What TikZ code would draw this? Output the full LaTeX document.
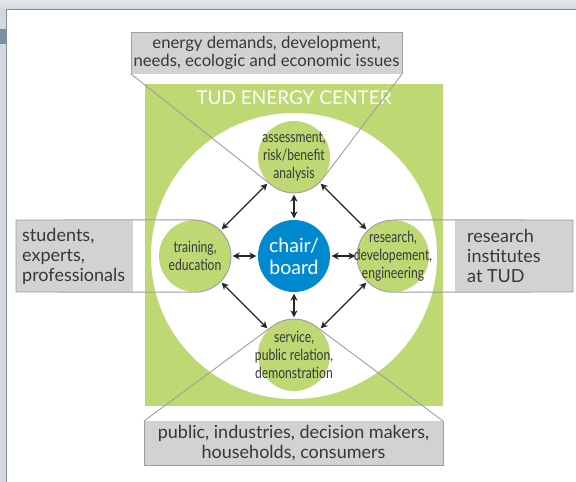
\documentclass[tikz,border=0pt]{standalone}
\usepackage{fontspec}
\setmainfont{Lato}
\newfontfamily\condfont[FakeStretch=0.78]{Lato}
\usepackage{tikz}
\usetikzlibrary{arrows.meta,calc}
\usepackage{xcolor}
\definecolor{tudgreen}{RGB}{190,216,116}
\definecolor{tudblue}{RGB}{0,137,207}
\definecolor{boxgray}{RGB}{209,210,212}
\definecolor{linegray}{RGB}{158,158,160}
\definecolor{textgray}{RGB}{55,55,58}
\definecolor{chromegray}{RGB}{212,216,222}
\definecolor{chromeblue}{RGB}{122,142,168}

\tikzset{
  task/.style={circle,fill=tudgreen,minimum size=72pt,inner sep=0pt},
  tasktext/.style={align=center,inner sep=0pt,text=textgray,
    font=\condfont\fontsize{15.5}{18}\selectfont},
  link/.style={{Stealth[length=7pt,width=7pt]}-{Stealth[length=7pt,width=7pt]},
    line width=1.4pt,draw=black!85,shorten >=1.5pt,shorten <=1.5pt},
  outline/.style={draw=linegray,line width=0.9pt},
  boxtext/.style={text=textgray,inner sep=0pt,font=\fontsize{18}{20}\selectfont}
}

\begin{document}
\begin{tikzpicture}[x=1pt,y=1pt]
  \useasboundingbox (0,0) rectangle (576,-482);
  % window frame
  \fill[white] (0,0) rectangle (576,-482);
  \shade[top color=chromegray!60,bottom color=chromegray] (0,0) rectangle (576,-9);
  \fill[chromegray] (0,-9) rectangle (6,-482);
  \fill[chromeblue] (0,-29) rectangle (6,-44);
  \draw[chromeblue,line width=1pt] (6.5,-482) -- (6.5,-9.5) -- (576,-9.5);

  % center area
  \fill[tudgreen] (145,-84) rectangle (443,-406);
  \fill[white] (294,-256) circle (143);
  \node[text=white,font=\fontsize{19}{22}\selectfont] (title) at (294,-98) {TUD ENERGY CENTER};

  \coordinate (c0) at (294,-256);
  \node[circle,fill=tudblue,minimum size=72pt,inner sep=0pt,align=center,text=white,
    font=\fontsize{19.5}{22}\selectfont] (chair) at (c0) {chair/\\board};
  \node[task] (assess) at (294,-157) {};
  \node[task] (train) at (195,-256) {};
  \node[task] (research) at (393,-256) {};
  \node[task] (service) at (294,-355) {};

  % gray boxes
  \fill[boxgray] (131,-32) rectangle (402,-74);
  \fill[boxgray] (144,-421) rectangle (443,-465);
  \fill[boxgray] (16,-220) rectangle (133,-292);
  \fill[boxgray] (455,-220) rectangle (573,-292);

  \coordinate (tl) at (131,-74); \coordinate (tr) at (402,-74);
  \coordinate (bl) at (144,-421); \coordinate (br) at (443,-421);
  \draw[outline] (131,-74) -- (131,-32) -- (402,-32) -- (402,-74);
  \draw[outline] (144,-421) -- (144,-465) -- (443,-465) -- (443,-421);
  \draw[outline] let \p1=($(tl)-(assess)$), \p2=($(tr)-(assess)$),
      \n1={atan2(\y1,\x1)+acos(36/veclen(\x1,\y1))},
      \n2={atan2(\y2,\x2)-acos(36/veclen(\x2,\y2))+360} in
    (tl) -- ($(assess)+(\n1:36)$) arc[start angle=\n1,end angle=\n2,radius=36] -- (tr);
  \draw[outline] let \p1=($(bl)-(service)$), \p2=($(br)-(service)$),
      \n1={atan2(\y1,\x1)-acos(36/veclen(\x1,\y1))+360},
      \n2={atan2(\y2,\x2)+acos(36/veclen(\x2,\y2))} in
    (bl) -- ($(service)+(\n1:36)$) arc[start angle=\n1,end angle=\n2,radius=36] -- (br);
  \draw[outline] (train.north) -- (16,-220) -- (16,-292) -- (train.south)
    arc[start angle=-90,end angle=90,radius=36];
  \draw[outline] (research.north) -- (573,-220) -- (573,-292) -- (research.south)
    arc[start angle=-90,end angle=-270,radius=36];

  % texts
  \node[tasktext] (assess-t) at (assess) {assessment,\\risk/benefit\\analysis};
  \node[tasktext] (train-t) at (train) {training,\\education};
  \node[tasktext] (research-t) at (research) {research,\\developement,\\engineering};
  \node[tasktext] (service-t) at (service) {service,\\public relation,\\demonstration};
  \node[boxtext,align=center,font=\fontsize{16.7}{18.5}\selectfont] (demands) at (266.5,-53)
    {energy demands, development,\\needs, ecologic and economic issues};
  \node[boxtext,align=center] (public) at (293.5,-443) {public, industries, decision makers,\\households, consumers};
  \node[boxtext,align=left,anchor=west] (students) at (22,-256) {students,\\experts,\\professionals};
  \node[boxtext,align=left,anchor=west] (institutes) at (467,-256) {research\\institutes\\at TUD};

  % links
  \foreach \n in {assess,train,research,service}{\draw[link] (chair) -- (\n);}
  \draw[link] (assess) -- (train);
  \draw[link] (assess) -- (research);
  \draw[link] (service) -- (train);
  \draw[link] (service) -- (research);
\end{tikzpicture}
\end{document}
